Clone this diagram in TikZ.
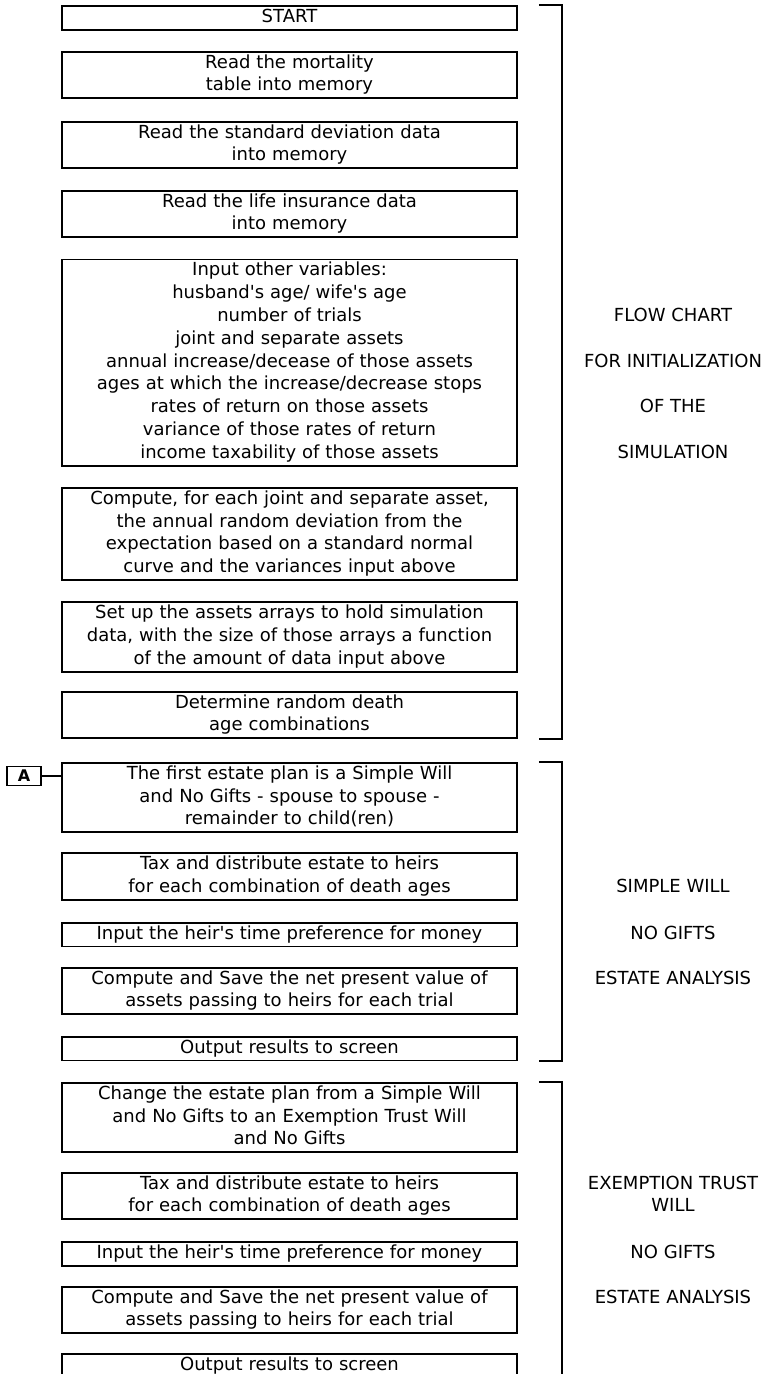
\documentclass[tikz,border=0pt]{standalone}
\usepackage{fontspec}
\setmainfont{DejaVu Sans}
\tikzset{
  stepbox/.style={draw, line width=1.8pt, text width=449pt, inner xsep=3pt, inner ysep=0.5pt,
    align=center, font=\fontsize{18}{22.8}\selectfont,
    execute at begin node=\strut, execute at end node=\strut},
  sidelabel/.style={font=\fontsize{18}{22.8}\selectfont, inner sep=0pt,
    execute at begin node=\strut},
  markbox/.style={draw, line width=1.8pt, minimum width=34pt, minimum height=19pt,
    inner sep=0pt, font=\fontsize{16}{16}\selectfont\bfseries},
  bracketline/.style={line width=1.8pt}
}
\begin{document}
\begin{tikzpicture}[x=1pt,y=-1pt]
\clip (0,0) rectangle (764,1374);
\node[stepbox] (start) at (289.5,18) {START};
\node[stepbox] (mortality) at (289.5,75) {Read the mortality\\table into memory};
\node[stepbox] (deviation) at (289.5,145) {Read the standard deviation data\\into memory};
\node[stepbox] (insurance) at (289.5,214) {Read the life insurance data\\into memory};
\node[stepbox] (variables) at (289.5,362.5) {Input other variables:\\husband\textquotesingle s age/ wife\textquotesingle s age\\number of trials\\joint and separate assets\\annual increase/decease of those assets\\ages at which the increase/decrease stops\\rates of return on those assets\\variance of those rates of return\\income taxability of those assets};
\node[stepbox] (randomdev) at (289.5,534) {Compute, for each joint and separate asset,\\the annual random deviation from the\\expectation based on a standard normal\\curve and the variances input above};
\node[stepbox] (arrays) at (289.5,637) {Set up the assets arrays to hold simulation\\data, with the size of those arrays a function\\of the amount of data input above};
\node[stepbox] (deathages) at (289.5,715) {Determine random death\\age combinations};

\node[stepbox] (simplewill) at (289.5,797.5) {The first estate plan is a Simple Will\\and No Gifts - spouse to spouse -\\remainder to child(ren)};
\node[stepbox] (taxone) at (289.5,876.5) {Tax and distribute estate to heirs\\for each combination of death ages};
\node[stepbox] (prefone) at (289.5,934.5) {Input the heir\textquotesingle s time preference for money};
\node[stepbox] (npvone) at (289.5,991) {Compute and Save the net present value of\\assets passing to heirs for each trial};
\node[stepbox] (outone) at (289.5,1048.5) {Output results to screen};

\node[stepbox] (trustwill) at (289.5,1117.5) {Change the estate plan from a Simple Will\\and No Gifts to an Exemption Trust Will\\and No Gifts};
\node[stepbox] (taxtwo) at (289.5,1196) {Tax and distribute estate to heirs\\for each combination of death ages};
\node[stepbox] (preftwo) at (289.5,1254) {Input the heir\textquotesingle s time preference for money};
\node[stepbox] (npvtwo) at (289.5,1310) {Compute and Save the net present value of\\assets passing to heirs for each trial};
\node[stepbox] (outtwo) at (289.5,1366) {Output results to screen};

\node[markbox] (amark) at (24,776) {A};
\draw[line width=2.5pt] (amark.east) -- (amark.east -| simplewill.west);

\draw[bracketline] ([xshift=21pt]start.north east) -- ([xshift=44pt]start.north east) -- ([xshift=44pt]deathages.south east) -- ([xshift=21pt]deathages.south east);
\draw[bracketline] ([xshift=21pt]simplewill.north east) -- ([xshift=44pt]simplewill.north east) -- ([xshift=44pt]outone.south east) -- ([xshift=21pt]outone.south east);
\draw[bracketline] ([xshift=21pt]trustwill.north east) -- ([xshift=44pt]trustwill.north east) -- ([xshift=44pt]outtwo.south east);

\node[sidelabel] (flowchart) at (673,316.9) {FLOW CHART};
\node[sidelabel] (forinit) at (673,362.5) {FOR INITIALIZATION};
\node[sidelabel] (ofthe) at (673,408.1) {OF THE};
\node[sidelabel] (simulation) at (673,453.7) {SIMULATION};

\node[sidelabel] (simplelabel) at (673,887.9) {SIMPLE WILL};
\node[sidelabel] (giftsone) at (673,934.5) {NO GIFTS};
\node[sidelabel] (analysisone) at (673,979.6) {ESTATE ANALYSIS};

\node[sidelabel] (trustlabel) at (673,1184.6) {EXEMPTION TRUST};
\node[sidelabel] (willlabel) at (673,1207.4) {WILL};
\node[sidelabel] (giftstwo) at (673,1254) {NO GIFTS};
\node[sidelabel] (analysistwo) at (673,1298.6) {ESTATE ANALYSIS};
\end{tikzpicture}
\end{document}
